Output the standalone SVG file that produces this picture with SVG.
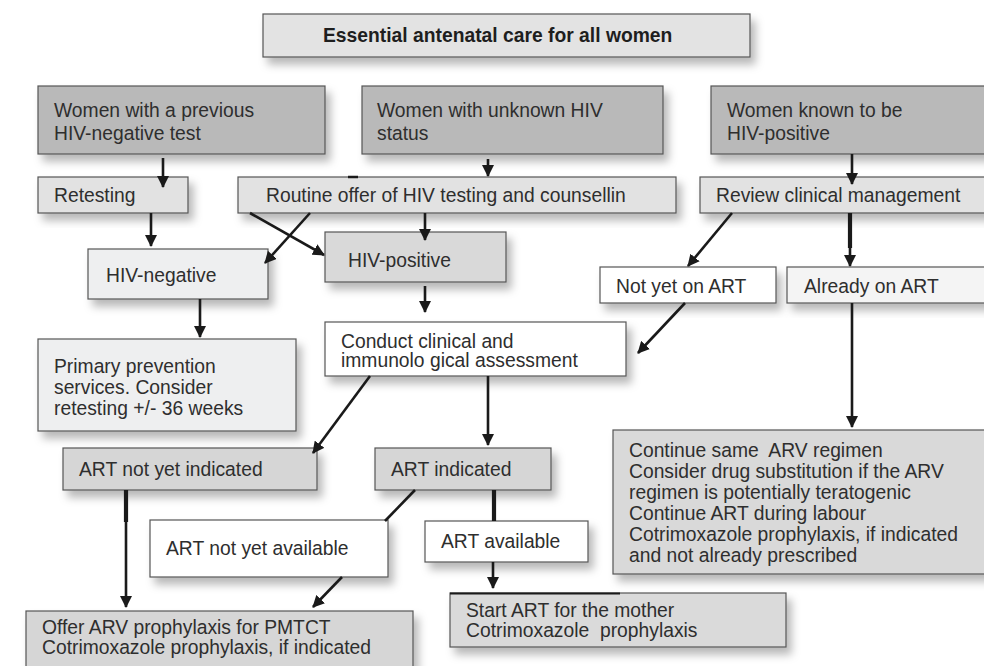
<svg xmlns="http://www.w3.org/2000/svg" width="984" height="666" viewBox="0 0 984 666">
<style>
text{font-family:"Liberation Sans",Arial,Helvetica,sans-serif;font-size:19.3px;fill:#2e2e2e;white-space:pre}
.title{font-weight:bold;fill:#1e1e1e}
.box{stroke:#555;stroke-width:1.2}
.c{stroke:#1a1a1a;stroke-width:2.6;fill:none}
.ca{stroke:#1a1a1a;stroke-width:2.6;fill:none;marker-end:url(#ah)}
.thick{stroke-width:4.2}
</style>
<defs>
<filter id="sh" x="-10%" y="-20%" width="130%" height="160%">
<feDropShadow dx="5" dy="7" stdDeviation="4" flood-color="#000" flood-opacity="0.28"/>
</filter>
<marker id="ah" markerUnits="userSpaceOnUse" markerWidth="12" markerHeight="12" viewBox="0 0 12 12" refX="11" refY="6" orient="auto">
<path d="M0,0 L12,6 L0,12 z" fill="#1a1a1a"/>
</marker>
</defs>
<rect width="984" height="666" fill="#fff"/>

<g id="title">
<rect class="box" x="263" y="14" width="487" height="43" fill="#e3e3e3" filter="url(#sh)"/>
<text class="title" x="323" y="42">Essential antenatal care for all women</text>
</g>
<g id="h1">
<rect class="box" x="38" y="86" width="287" height="68" fill="#b9b9b9" filter="url(#sh)"/>
<text x="54" y="117">Women with a previous</text>
<text x="54" y="140">HIV-negative test</text>
</g>
<g id="h2">
<rect class="box" x="362" y="86" width="301" height="68" fill="#b9b9b9" filter="url(#sh)"/>
<text x="377" y="117">Women with unknown HIV</text>
<text x="377" y="140">status</text>
</g>
<g id="h3">
<rect class="box" x="711" y="86" width="290" height="68" fill="#b9b9b9" filter="url(#sh)"/>
<text x="727" y="117">Women known to be</text>
<text x="727" y="140">HIV-positive</text>
</g>
<g id="retesting">
<rect class="box" x="38" y="177" width="150" height="36" fill="#e2e2e2" filter="url(#sh)"/>
<text x="54" y="202">Retesting</text>
</g>
<g id="routine">
<rect class="box" x="238" y="177" width="438" height="36" fill="#e2e2e2" filter="url(#sh)"/>
<line x1="348" y1="177" x2="358" y2="177" stroke="#1a1a1a" stroke-width="2.5"/>
<text x="266" y="202">Routine offer of HIV testing and counsellin</text>
</g>
<g id="review">
<rect class="box" x="700" y="177" width="300" height="36" fill="#e2e2e2" filter="url(#sh)"/>
<text x="716" y="202">Review clinical management</text>
</g>
<g id="hivneg">
<rect class="box" x="88" y="249" width="180" height="50" fill="#eeeff0" filter="url(#sh)"/>
<text x="106" y="282">HIV-negative</text>
</g>
<g id="hivpos">
<rect class="box" x="325" y="232" width="181" height="50" fill="#d9d9d9" filter="url(#sh)"/>
<text x="348" y="267">HIV-positive</text>
</g>
<g id="primary">
<rect class="box" x="38" y="339" width="258" height="92" fill="#eeeff0" filter="url(#sh)"/>
<text x="54" y="373">Primary prevention</text>
<text x="54" y="394">services. Consider</text>
<text x="54" y="415">retesting +/- 36 weeks</text>
</g>
<g id="conduct">
<rect class="box" x="325" y="322" width="301" height="54" fill="#ffffff" filter="url(#sh)"/>
<text x="341" y="348">Conduct clinical and</text>
<text x="341" y="367">immunolo gical assessment</text>
</g>
<g id="notyet">
<rect class="box" x="600" y="267" width="176" height="36" fill="#ffffff" filter="url(#sh)"/>
<text x="616" y="293">Not yet on ART</text>
</g>
<g id="already">
<rect class="box" x="787" y="267" width="213" height="36" fill="#f4f4f4" filter="url(#sh)"/>
<text x="804" y="293">Already on ART</text>
</g>
<g id="continue">
<rect class="box" x="613" y="430" width="387" height="144" fill="#d9d9d9" filter="url(#sh)"/>
<text x="629" y="457">Continue same  ARV regimen</text>
<text x="629" y="478">Consider drug substitution if the ARV</text>
<text x="629" y="499">regimen is potentially teratogenic</text>
<text x="629" y="520">Continue ART during labour</text>
<text x="629" y="541">Cotrimoxazole prophylaxis, if indicated</text>
<text x="629" y="562">and not already prescribed</text>
</g>
<g id="artnotind">
<rect class="box" x="63" y="448" width="254" height="42" fill="#d6d6d6" filter="url(#sh)"/>
<text x="79" y="476">ART not yet indicated</text>
</g>
<g id="artind">
<rect class="box" x="375" y="448" width="176" height="42" fill="#d6d6d6" filter="url(#sh)"/>
<text x="391" y="476">ART indicated</text>
</g>
<g id="artnotavail">
<rect class="box" x="150" y="520" width="238" height="57" fill="#ffffff" filter="url(#sh)"/>
<text x="166" y="555">ART not yet available</text>
</g>
<g id="artavail">
<rect class="box" x="425" y="521" width="163" height="41" fill="#ffffff" filter="url(#sh)"/>
<text x="441" y="548">ART available</text>
</g>
<g id="start">
<rect class="box" x="450" y="593" width="336" height="54" fill="#dadada" filter="url(#sh)"/>
<line x1="450" y1="593.5" x2="620" y2="593.5" stroke="#1a1a1a" stroke-width="2"/>
<text x="466" y="617">Start ART for the mother</text>
<text x="466" y="637">Cotrimoxazole  prophylaxis</text>
</g>
<g id="offer">
<rect class="box" x="26" y="611" width="387" height="75" fill="#d6d6d6" filter="url(#sh)"/>
<text x="42" y="634">Offer ARV prophylaxis for PMTCT</text>
<text x="42" y="654">Cotrimoxazole prophylaxis, if indicated</text>
</g>

<g id="connectors">
<line class="ca" x1="163" y1="158" x2="163" y2="187"/>
<line class="ca" x1="488" y1="159" x2="488" y2="176"/>
<line class="ca" x1="852" y1="154" x2="852" y2="184"/>
<line class="ca" x1="151" y1="213" x2="151" y2="246"/>
<line class="ca" x1="250" y1="213" x2="324" y2="255"/>
<line class="ca" x1="310" y1="213" x2="265" y2="263"/>
<line class="ca" x1="425" y1="213" x2="425" y2="240"/>
<line class="ca" x1="200" y1="299" x2="200" y2="337"/>
<line class="ca" x1="425" y1="286" x2="425" y2="312"/>
<line class="ca" x1="732" y1="213" x2="688" y2="266"/>
<line class="c thick" x1="850" y1="213" x2="850" y2="248"/>
<line class="ca" x1="850" y1="246" x2="850" y2="266"/>
<line class="ca" x1="685" y1="303" x2="638" y2="353"/>
<line class="ca" x1="852" y1="303" x2="852" y2="427"/>
<line class="ca" x1="370" y1="376" x2="313" y2="453"/>
<line class="ca" x1="488" y1="376" x2="488" y2="445"/>
<line class="c thick" x1="126" y1="490" x2="126" y2="522"/>
<line class="ca" x1="126" y1="520" x2="126" y2="607"/>
<line class="c" x1="415" y1="490" x2="385" y2="521"/>
<line class="ca" x1="342" y1="577" x2="313" y2="607"/>
<line class="c thick" x1="494" y1="490" x2="494" y2="521"/>
<line class="ca" x1="493" y1="562" x2="493" y2="588"/>
</g>
</svg>
